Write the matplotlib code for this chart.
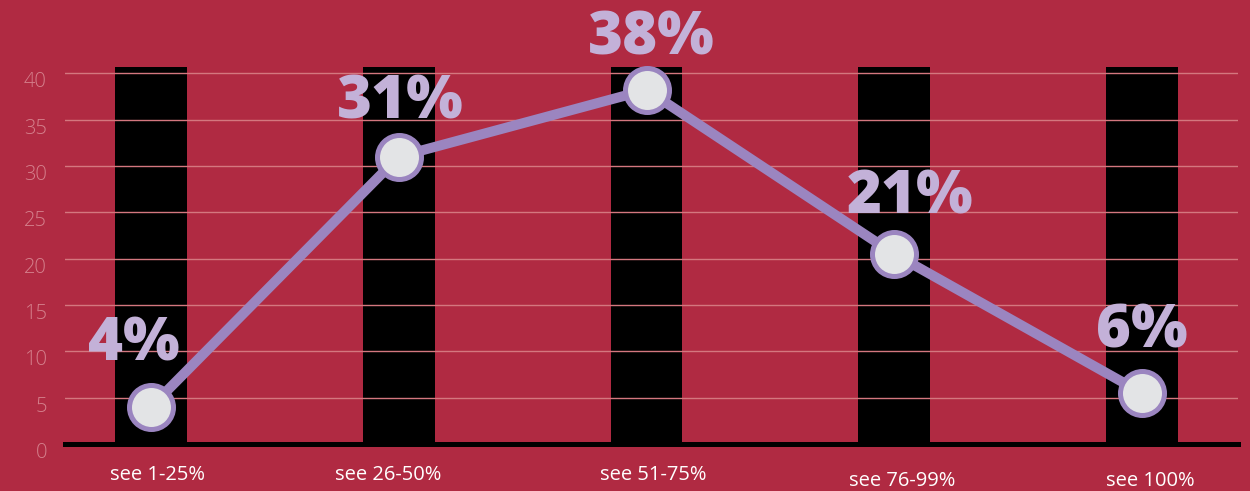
import matplotlib
matplotlib.use('Agg')
import matplotlib.pyplot as plt
import matplotlib.transforms as mtransforms

# ---- data ----
categories = ['see 1-25%', 'see 26-50%', 'see 51-75%', 'see 76-99%', 'see 100%']
values = [4.0, 31.0, 38.2, 20.5, 5.5]
value_labels = ['4%', '31%', '38%', '21%', '6%']
bar_heights = [40.7, 40.7, 40.7, 40.7, 40.7]
y_ticks = [0, 5, 10, 15, 20, 25, 30, 35, 40]

# ---- style ----
BG = '#B02A42'
GRID = '#D4777F'
TICK = '#D5808C'
LINE = '#9B85C0'
MFACE = '#E3E4E6'
LABEL = '#C3B1D8'
PX = 72 / 100  # points per pixel

# label offsets (pixels) relative to points
label_dx = [-17, 2, 5, 16, 0]
label_dy = [62, 54, 51, 56, 62]
# x tick label offsets (pixels) relative to category position on baseline
xlab_dx = [6, -11, 7, 8, 8]
xlab_dy = [-31.5, -31.5, -31.5, -37.5, -37.5]

fig = plt.figure(figsize=(12.5, 4.91), dpi=100, facecolor=BG)
ax = fig.add_axes([65 / 1250, 1 - 444 / 491, (1238 - 65) / 1250, (444 - 66.7) / 491])
ax.set_facecolor(BG)

x = list(range(len(categories)))
ax.bar(x, bar_heights, width=0.29, color='black', zorder=1)

for yv in y_ticks[1:]:
    ax.axhline(yv, color=GRID, lw=1.0, zorder=2)
ax.axhline(0, color='black', lw=5 * PX, zorder=3, clip_on=False)

ax.plot(x, values, color=LINE, lw=10 * PX, zorder=4, solid_capstyle='round',
        marker='o', markersize=44 * PX, markerfacecolor=MFACE,
        markeredgecolor=LINE, markeredgewidth=5 * PX, clip_on=False)

for i, (v, lab) in enumerate(zip(values, value_labels)):
    ax.annotate(lab, xy=(i, v), xytext=(label_dx[i] * PX, label_dy[i] * PX),
                textcoords='offset points', ha='center', va='center',
                fontsize=43, fontweight='heavy', family='Open Sans',
                color=LABEL, zorder=6, annotation_clip=False)

for i, cat in enumerate(categories):
    ax.annotate(cat, xy=(i, 0), xytext=(xlab_dx[i] * PX, xlab_dy[i] * PX),
                textcoords='offset points', ha='center', va='center',
                fontsize=14.5, family='Open Sans', color='white',
                annotation_clip=False)

ax.set_xlim((65 - 151) / 247.75, (1238 - 151) / 247.75)
ax.set_ylim(0, 40.7)
ax.set_xticks([])
ax.set_yticks(y_ticks)
ax.set_yticklabels([str(t) for t in y_ticks], family='Open Sans', fontweight='light',
                   fontsize=14.5, color=TICK)
ax.tick_params(axis='y', length=0, pad=18 * PX)
shift = mtransforms.ScaledTranslation(0, -6.5 / 100, fig.dpi_scale_trans)
for lbl in ax.get_yticklabels():
    lbl.set_transform(lbl.get_transform() + shift)
for s in ax.spines.values():
    s.set_visible(False)

fig.savefig('out.png', dpi=100, facecolor=BG)
